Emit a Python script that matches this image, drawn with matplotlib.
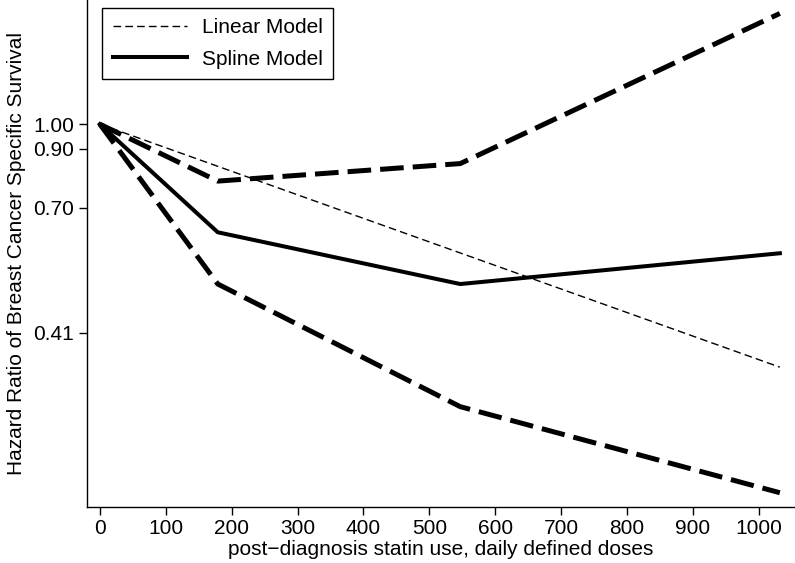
#!/usr/bin/env python3

import numpy as np
import matplotlib
matplotlib.use('Agg')
import matplotlib.pyplot as plt
import matplotlib.ticker as tkr

# doses (DDD) and hazard ratios
dose_spline = [0, 179, 547, 1032]
hr_spline = [1.00, 0.630, 0.505, 0.576]
hr_upper = [1.00, 0.784, 0.845, 1.605]
hr_lower = [1.00, 0.505, 0.299, 0.207]

dose_linear = [0, 1032]
hr_linear = [1.00, 0.354]

yticks = [1.00, 0.90, 0.70, 0.41]
xticks = list(range(0, 1001, 100))

plt.rcParams['font.family'] = ['Liberation Sans', 'DejaVu Sans']
plt.rcParams['lines.scale_dashes'] = False
FS = 15

fig = plt.figure(figsize=(7.95, 5.63), dpi=100)
ax = fig.add_axes([0.109, 0.1, 0.891, 0.9])

ax.plot(dose_linear, hr_linear, color='black', lw=1.0, dashes=(5.5, 3),
        label='Linear Model')
ax.plot(dose_spline, hr_spline, color='black', lw=2.9, label='Spline Model',
        solid_joinstyle='miter')
ax.plot(dose_spline, hr_upper, color='black', lw=3.6, dashes=(17, 6.5),
        dash_capstyle='butt')
ax.plot(dose_spline, hr_lower, color='black', lw=3.6, dashes=(17, 6.5),
        dash_capstyle='butt')

ax.set_yscale('log')
ax.set_ylim(0.195, 1.70)
ax.set_xlim(-20, 1055)
ax.set_yticks(yticks)
ax.yaxis.set_major_formatter(tkr.FuncFormatter(lambda y, pos: '%.2f' % y))
ax.yaxis.set_minor_locator(tkr.NullLocator())
ax.set_xticks(xticks)

ax.spines['top'].set_visible(False)
ax.spines['right'].set_visible(False)
for s in ('left', 'bottom'):
    ax.spines[s].set_linewidth(1.0)
ax.tick_params(direction='out', length=6, width=1.0, labelsize=FS, pad=3)

ax.set_xlabel('post\u2212diagnosis statin use, daily defined doses', fontsize=FS,
              labelpad=1)
ax.set_ylabel('Hazard Ratio of Breast Cancer Specific Survival', fontsize=FS,
              labelpad=5)

leg = ax.legend(loc='upper left', bbox_to_anchor=(0.022, 0.985), fontsize=FS,
                frameon=True, fancybox=False, framealpha=1, edgecolor='black',
                handlelength=3.55, handletextpad=0.72, borderpad=0.5,
                labelspacing=0.6, borderaxespad=0)
leg.get_frame().set_linewidth(1.0)

fig.savefig('out.png', dpi=100)
